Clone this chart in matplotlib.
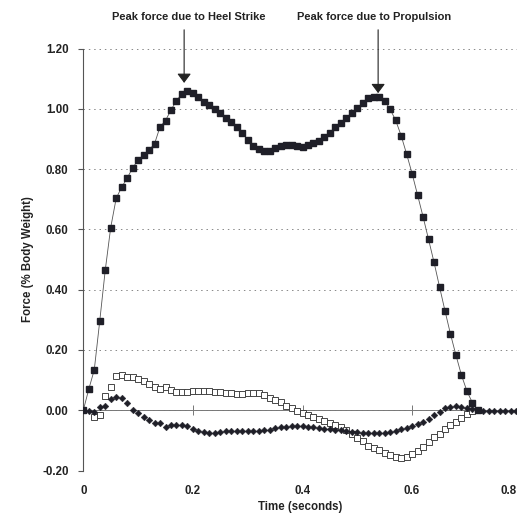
import numpy as np
import matplotlib
matplotlib.use("Agg")
import matplotlib.pyplot as plt
import matplotlib.transforms as mtransforms

plt.rcParams['font.family'] = ['Liberation Sans', 'DejaVu Sans']

# ---------------- data (sampled every 0.01 s) ----------------
time_step = 0.01

vertical_force = [
    0.000, 0.070, 0.134, 0.296, 0.464, 0.606, 0.703, 0.740, 0.770, 0.804,
    0.830, 0.847, 0.863, 0.884, 0.940, 0.961, 0.996, 1.027, 1.050, 1.058,
    1.051, 1.039, 1.023, 1.012, 0.999, 0.987, 0.970, 0.957, 0.941, 0.919,
    0.898, 0.878, 0.866, 0.861, 0.860, 0.871, 0.877, 0.880, 0.879, 0.877,
    0.874, 0.880, 0.886, 0.894, 0.905, 0.921, 0.939, 0.954, 0.970, 0.987,
    1.002, 1.020, 1.035, 1.040, 1.040, 1.027, 0.998, 0.962, 0.911, 0.850,
    0.785, 0.714, 0.642, 0.567, 0.491, 0.410, 0.330, 0.253, 0.183, 0.117,
    0.064, 0.025, 0.000,
]

open_squares = [
    np.nan, np.nan, -0.021, -0.016, 0.047, 0.078, 0.114, 0.117, 0.111, 0.109,
    0.104, 0.097, 0.087, 0.078, 0.071, 0.078, 0.067, 0.060, 0.060, 0.062,
    0.064, 0.064, 0.064, 0.064, 0.062, 0.060, 0.057, 0.056, 0.054, 0.054,
    0.056, 0.056, 0.056, 0.051, 0.042, 0.034, 0.027, 0.015, 0.007, -0.002,
    -0.010, -0.017, -0.023, -0.030, -0.035, -0.043, -0.050, -0.054, -0.065, -0.079,
    -0.091, -0.102, -0.117, -0.125, -0.133, -0.140, -0.148, -0.155, -0.159, -0.156,
    -0.146, -0.134, -0.123, -0.106, -0.090, -0.079, -0.062, -0.050, -0.039, -0.027,
    -0.013, -0.002,
]

diamonds = [
    0.000, -0.001, -0.005, 0.012, 0.014, 0.036, 0.045, 0.041, 0.023, 0.001,
    -0.010, -0.023, -0.032, -0.041, -0.043, -0.054, -0.050, -0.048, -0.048, -0.052,
    -0.061, -0.068, -0.072, -0.075, -0.076, -0.073, -0.069, -0.068, -0.068, -0.068,
    -0.068, -0.068, -0.068, -0.066, -0.064, -0.060, -0.056, -0.054, -0.052, -0.052,
    -0.052, -0.054, -0.056, -0.060, -0.062, -0.063, -0.066, -0.066, -0.068, -0.071,
    -0.073, -0.075, -0.075, -0.075, -0.075, -0.074, -0.072, -0.067, -0.063, -0.058,
    -0.052, -0.047, -0.038, -0.028, -0.017, -0.005, 0.006, 0.011, 0.015, 0.011,
    0.008, 0.003, 0.000, -0.002, -0.002, -0.002, -0.002, -0.002, -0.002, -0.002,
    -0.002,
]

x_ticks = [0.0, 0.2, 0.4, 0.6, 0.8]
x_tick_labels = ['0', '0.2', '0.4', '0.6', '0.8']
y_ticks = [-0.2, 0.0, 0.2, 0.4, 0.6, 0.8, 1.0, 1.2]
y_tick_labels = ['-0.20', '0.00', '0.20', '0.40', '0.60', '0.80', '1.00', '1.20']

heel_label = 'Peak force due to Heel Strike'
prop_label = 'Peak force due to Propulsion'
x_label = 'Time (seconds)'
y_label = 'Force (% Body Weight)'

# ---------------- figure ----------------
W = H = 517
fig = plt.figure(figsize=(W / 100, H / 100), dpi=100)
x0_px, ytop_px, ybot_px = 83.3, 48.5, 470.6
px_per_s = 548.0
x_max = 0.80
ax = fig.add_axes([x0_px / W, (H - ybot_px) / H,
                   x_max * px_per_s / W, (ybot_px - ytop_px) / H])

t_v = np.arange(len(vertical_force)) * time_step
t_o = np.arange(len(open_squares)) * time_step
t_d = np.arange(len(diamonds)) * time_step

dark = '#1f1f28'
ax.plot(t_o, open_squares, ls='none', marker='s', ms=4.9, mfc='white',
        mec='#3a3a3a', mew=0.65, zorder=3, clip_on=False)
ax.plot(t_v, vertical_force, color='#555555', lw=0.6, marker='s', ms=4.4,
        mfc=dark, mec=dark, zorder=4)
ax.plot(t_d, diamonds, ls='none', marker='D', ms=3.4, mfc=dark, mec=dark,
        mew=0.3, zorder=5)

ax.set_xlim(0, x_max)
ax.set_ylim(-0.2, 1.2)

for s in ('top', 'right'):
    ax.spines[s].set_visible(False)
ax.spines['left'].set_color('#555555')
ax.spines['left'].set_linewidth(0.8)
ax.spines['bottom'].set_position(('data', 0))
ax.spines['bottom'].set_color('#777777')
ax.spines['bottom'].set_linewidth(0.7)
ax.spines['bottom'].set_zorder(2)

ax.set_yticks(y_ticks)
ax.set_yticklabels(y_tick_labels)
ax.set_xticks(x_ticks)
ax.set_xticklabels(x_tick_labels)

ax.tick_params(axis='y', direction='out', length=3.6, width=0.8, color='#555555',
               pad=7, labelsize=8.3, labelcolor='#222222')
ax.tick_params(axis='x', direction='inout', length=7.7, width=0.7, color='#777777',
               pad=50, labelsize=8.3, labelcolor='#222222')
for lab in ax.get_xticklabels() + ax.get_yticklabels():
    lab.set_fontweight('bold')

last = ax.get_xticklabels()[-1]
last.set_horizontalalignment('right')
last.set_transform(last.get_transform() +
                   mtransforms.ScaledTranslation(-0.05, 0, fig.dpi_scale_trans))

ax.yaxis.grid(True, linestyle=(0, (1.5, 4)), color='#888888', lw=0.7)
ax.xaxis.grid(False)
ax.set_axisbelow(True)

ax.set_ylabel(y_label, fontsize=8.3, fontweight='bold', color='#222222')
ax.yaxis.set_label_coords(-0.112, 0.5)
ax.set_xlabel(x_label, fontsize=8.3, fontweight='bold', color='#222222')
ax.xaxis.set_label_coords(0.494, -0.072)

# annotations
ax.text(0.192, 1.303, heel_label, ha='center', va='center', fontsize=8,
        fontweight='bold', color='#222222', clip_on=False)
ax.text(0.531, 1.303, prop_label, ha='center', va='center', fontsize=8,
        fontweight='bold', color='#222222', clip_on=False)
arrow = dict(arrowstyle='-|>,head_length=0.4,head_width=0.3', color='#222222',
             lw=0.8, mutation_scale=14, shrinkA=0, shrinkB=0)
ax.annotate('', xy=(0.184, 1.086), xytext=(0.184, 1.262),
            arrowprops=arrow, annotation_clip=False)
ax.annotate('', xy=(0.538, 1.052), xytext=(0.538, 1.262),
            arrowprops=arrow, annotation_clip=False)

fig.savefig('out.png', dpi=100, facecolor='white')
